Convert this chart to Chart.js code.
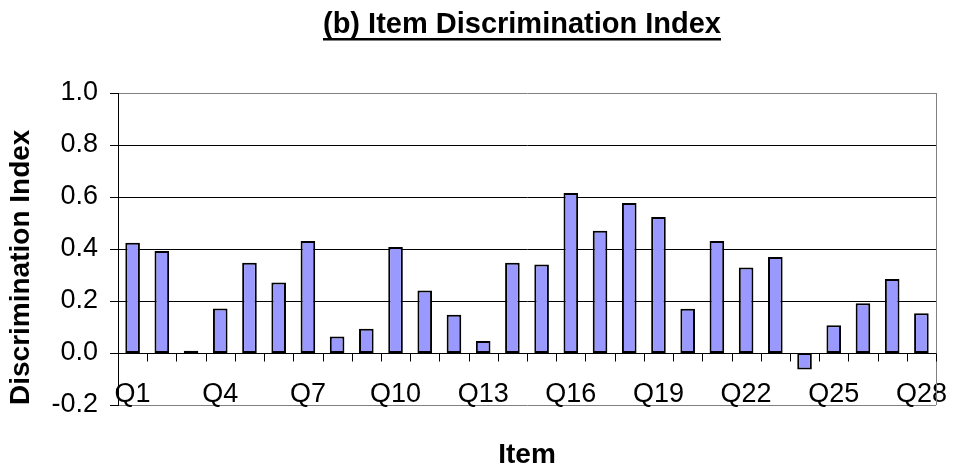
<!DOCTYPE html>
<html>
<head>
<meta charset="utf-8">
<script src="https://cdn.jsdelivr.net/npm/chart.js@4/dist/chart.umd.min.js"></script>
<style>
  html, body { margin: 0; padding: 0; background: #fff; }
  canvas { display: block; }
</style>
</head>
<body>
<canvas id="discChart" width="953" height="472"></canvas>
<script>
const items = ['Q1','Q2','Q3','Q4','Q5','Q6','Q7','Q8','Q9','Q10','Q11','Q12','Q13','Q14',
               'Q15','Q16','Q17','Q18','Q19','Q20','Q21','Q22','Q23','Q24','Q25','Q26','Q27','Q28'];
const discIndex = [0.424, 0.392, 0.009, 0.171, 0.347, 0.271, 0.431, 0.063, 0.093, 0.408, 0.240, 0.147, 0.046, 0.347,
                   0.340, 0.615, 0.470, 0.577, 0.523, 0.170, 0.431, 0.329, 0.369, -0.063, 0.107, 0.191, 0.285, 0.153];
const yMin = -0.2, yMax = 1.0, yStep = 0.2;
const chartTitle = '(b) Item Discrimination Index';

const FONT = "'Liberation Sans', Arial, sans-serif";

// title with underline, plus plot frame and the little ticks on the zero line
const frame = {
  id: 'frame',
  afterDatasetsDraw(chart) {
    const {ctx, chartArea: a, scales: {x, y}} = chart;
    ctx.save();
    ctx.strokeStyle = '#808080';
    ctx.lineWidth = 1;
    ctx.beginPath();
    ctx.moveTo(a.right + 0.5, a.top);
    ctx.lineTo(a.right + 0.5, a.bottom);
    ctx.stroke();

    const y0 = Math.round(y.getPixelForValue(0)) + 0.5;
    ctx.strokeStyle = '#000';
    ctx.beginPath();
    ctx.moveTo(a.left, y0);
    ctx.lineTo(a.right, y0);
    for (let i = 0; i <= items.length; i++) {
      const px = Math.round(x.getPixelForValue(i - 0.5)) + 0.5;
      ctx.moveTo(px, y0);
      ctx.lineTo(px, y0 + 8);
    }
    ctx.stroke();
    ctx.restore();
  },
  afterDraw(chart) {
    const ctx = chart.ctx;
    ctx.save();
    ctx.font = 'bold 29px ' + FONT;
    ctx.fillStyle = '#000';
    ctx.textBaseline = 'alphabetic';
    ctx.textAlign = 'left';
    const w = ctx.measureText(chartTitle).width;
    const left = 522 - w / 2;
    ctx.fillText(chartTitle, left, 33);
    ctx.fillRect(left, 38, w, 2.5);
    ctx.restore();
  }
};

new Chart(document.getElementById('discChart'), {
  type: 'bar',
  data: {
    labels: items,
    datasets: [{
      label: 'Discrimination Index',
      data: discIndex,
      backgroundColor: '#9999FF',
      borderColor: '#000',
      borderWidth: 2,
      borderSkipped: false,
      barPercentage: 0.5,
      categoryPercentage: 1
    }]
  },
  options: {
    responsive: false,
    animation: false,
    layout: { padding: { top: 93, right: 17, left: 0, bottom: 0 } },
    plugins: {
      legend: { display: false },
      tooltip: { enabled: false },
      title: { display: false }
    },
    scales: {
      x: {
        grid: { display: false },
        border: { display: false },
        ticks: {
          autoSkip: false,
          maxRotation: 0,
          mirror: true,   // lets the labels sit inside the plot, just above the -0.2 line
          padding: -6,
          color: '#000',
          font: { family: FONT, size: 27 },
          callback: (v, i) => (i % 3 === 0 ? items[i] : null)
        },
        title: {
          display: true,
          text: 'Item',
          color: '#000',
          font: { family: FONT, size: 28, weight: 'bold' },
          padding: { top: 0, bottom: 0 }
        },
        afterFit: s => { s.height = 67; }
      },
      y: {
        min: yMin,
        max: yMax,
        ticks: {
          stepSize: yStep,
          padding: 12,
          color: '#000',
          font: { family: FONT, size: 27 },
          callback: v => (Math.abs(v) < 1e-9 ? 0 : v).toFixed(1)
        },
        grid: {
          color: c => {
            const v = c.tick ? c.tick.value : 0;
            return (Math.abs(v - yMax) < 1e-9 || Math.abs(v - yMin) < 1e-9) ? '#808080' : '#000';
          },
          tickColor: '#000',
          tickLength: 8,
          lineWidth: 1
        },
        border: { color: '#000', width: 1 },
        title: {
          display: true,
          text: 'Discrimination Index',
          align: 'start',
          color: '#000',
          font: { family: FONT, size: 28, weight: 'bold' },
          padding: { top: 4, bottom: 0 }
        },
        afterFit: s => { s.width = 118; }
      }
    }
  },
  plugins: [frame]
});
</script>
</body>
</html>
